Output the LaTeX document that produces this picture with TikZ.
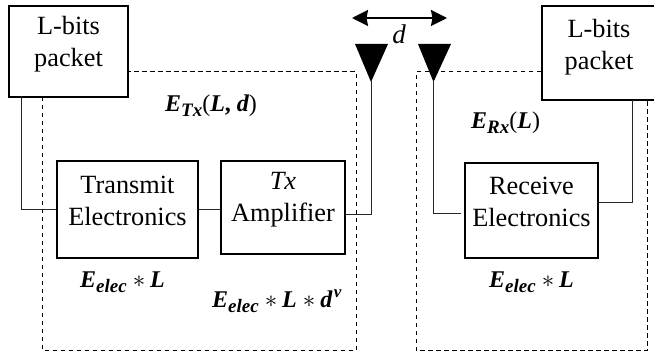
\documentclass[tikz,border=0pt]{standalone}
\usepackage{fontspec}
\setmainfont{Liberation Serif}
\usetikzlibrary{arrows.meta}
\newcommand{\bsub}[1]{\raisebox{-5pt}{\fontsize{19}{19}\selectfont\bfseries\itshape #1}}
\newcommand{\bm}[1]{{\bfseries\itshape #1}}
\newcommand{\tms}{\hspace{6pt}$\ast$\hspace{5pt}}
\tikzset{
  x=1pt,y=-1pt,
  boxnode/.style={draw=black,line width=2.4pt,fill=white,inner sep=0pt},
  txt/.style={font=\fontsize{26.3}{32}\selectfont,align=center,inner sep=0pt},
  eq/.style={font=\fontsize{24}{28}\selectfont,inner sep=0pt,anchor=base west},
  wire/.style={draw=black!85,line width=0.9pt},
  zone/.style={draw=black,line width=1pt,dash pattern=on 4.5pt off 3.5pt},
  antenna/.style={fill=black,draw=none}
}
\begin{document}
\begin{tikzpicture}
\useasboundingbox (0,0) rectangle (654,355);
% dashed zones
\draw[zone] (42.5,97) -- (42.5,351) -- (356,351) -- (356,72) -- (128,72);
\draw[zone] (541,72) -- (416,72) -- (416,351) -- (647,351) -- (647,100);
% boxes
\node[boxnode,minimum width=119pt,minimum height=91pt] (srcL) at (68.5,51.5) {};
\node[boxnode,minimum width=120pt,minimum height=94pt,anchor=west] (srcR) at (541,53) {};
\node[boxnode,minimum width=141pt,minimum height=97pt] (txel) at (127.5,209.5) {};
\node[boxnode,minimum width=124pt,minimum height=93pt] (amp) at (283,207.5) {};
\node[boxnode,minimum width=133pt,minimum height=95pt] (rxel) at (531.5,210.5) {};
% antennas
\fill[antenna] (355,44) -- (388,44) -- (371,82) -- cycle;
\fill[antenna] (418,44) -- (451,44) -- (433.5,82) -- cycle;
\coordinate (antL) at (371,80);
\coordinate (antR) at (433.5,80);
\coordinate (rxgap) at (461,213);
% connectors
\draw[wire] (21,97) |- (txel.west);
\draw[wire] (txel.east) -- (amp.west |- txel.east);
\draw[wire] (antL) |- (amp.east |- 0,214);
\draw[wire] (antR) |- (rxgap);
\draw[wire] (632,100) |- (rxel.east |- 0,202);
% distance arrow
\coordinate (dL) at (352,18);
\coordinate (dR) at (447,18);
\draw[line width=2pt,{Stealth[length=16pt,width=16pt,inset=1.5pt]}-{Stealth[length=16pt,width=16pt,inset=1.5pt]}] (dL) -- (dR);
% text
\node[txt] (tL) at (68.5,44) {L-bits\\packet};
\node[txt] (tR) at (599,47) {L-bits\\packet};
\node[txt] (tT) at (127.5,201) {Transmit\\Electronics};
\node[txt] (tA) at (283,199.5) {\textit{Tx}\\Amplifier};
\node[txt] (tRx) at (531.5,201.5) {Receive\\Electronics};
\node[font=\fontsize{27}{30}\selectfont\itshape,inner sep=0pt] (td) at (399,34) {d};
\node[eq] (e1) at (165,112) {\bm{E}\bsub{Tx}(\bm{L}\textbf{,} \bm{d})};
\node[eq] (e2) at (471,129) {\bm{E}\bsub{Rx}(\bm{L})};
\node[eq] (e3) at (80,288) {\bm{E}\bsub{elec}\tms\bm{L}};
\node[eq] (e4) at (212,308) {\bm{E}\bsub{elec}\tms\bm{L}\tms\bm{d}\kern1.5pt\raisebox{10pt}{\fontsize{17}{17}\selectfont\bm{v}}};
\node[eq] (e5) at (489,288) {\bm{E}\bsub{elec}\tms\bm{L}};
\end{tikzpicture}
\end{document}
